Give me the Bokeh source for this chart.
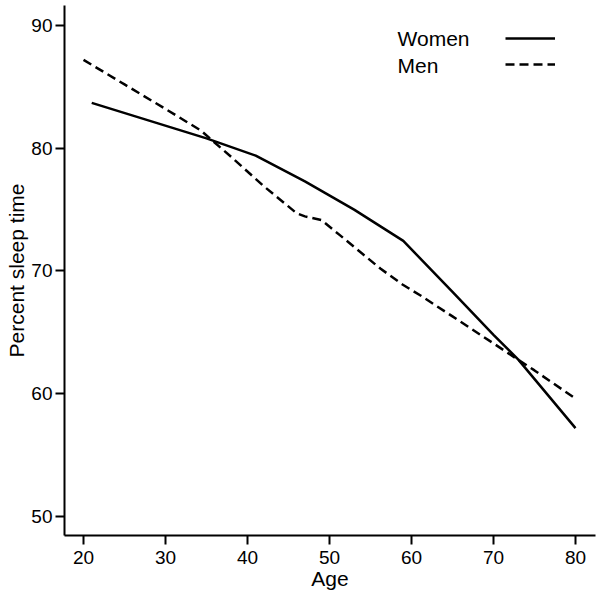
from bokeh.plotting import figure
from bokeh.models import Range1d, Label, Legend, LegendItem, FixedTicker
from bokeh.embed import file_html
from bokeh.resources import INLINE

# Data
women_age = [21, 35, 41, 47, 53, 59, 65, 70, 73, 80]
women_pct = [83.7, 80.8, 79.4, 77.3, 75.0, 72.45, 68.3, 64.8, 62.8, 57.2]

men_age = [20, 25, 30, 34.3, 38, 42, 46, 47, 49, 51.3, 56.2, 58.9, 61.1, 65, 70, 72.7, 75, 80]
men_pct = [87.2, 85.2, 83.2, 81.45, 79.3, 76.9, 74.7, 74.45, 74.15, 72.9, 70.2, 68.9, 68.0, 66.3, 64.1, 62.9, 61.9, 59.6]

x_ticks = [20, 30, 40, 50, 60, 70, 80]
y_ticks = [50, 60, 70, 80, 90]

FONT = "Liberation Sans"

p = figure(width=601, height=597, output_backend="svg", toolbar_location=None,
           x_range=Range1d(17.68, 82.44), y_range=Range1d(48.45, 91.63),
           min_border_left=64, min_border_right=6, min_border_top=5, min_border_bottom=62)
p.outline_line_color = None
p.xgrid.visible = False
p.ygrid.visible = False

for ax in (p.xaxis[0], p.yaxis[0]):
    ax.axis_line_width = 2
    ax.axis_line_color = "black"
    ax.major_tick_line_width = 2
    ax.major_tick_line_color = "black"
    ax.major_tick_in = 0
    ax.major_tick_out = 9
    ax.minor_tick_line_color = None
    ax.major_label_text_font = FONT
    ax.major_label_text_font_size = "19px"
    ax.major_label_text_color = "black"
    ax.axis_label_text_font = FONT
    ax.axis_label_text_font_size = "21px"
    ax.axis_label_text_font_style = "normal"
    ax.axis_label_text_color = "black"

p.xaxis.ticker = FixedTicker(ticks=x_ticks)
p.yaxis.ticker = FixedTicker(ticks=y_ticks)
p.xaxis.axis_label = "Age"
p.yaxis.axis_label = "Percent sleep time"
p.xaxis.major_label_standoff = 6
p.xaxis.axis_label_standoff = 0
p.yaxis.major_label_standoff = 3
p.yaxis.axis_label_standoff = 0

rw = p.line(women_age, women_pct, line_color="black", line_width=2.5)
rm = p.line(men_age, men_pct, line_color="black", line_width=2.5, line_dash="9 5")

legend = Legend(items=[LegendItem(label=" ", renderers=[rw]),
                       LegendItem(label=" ", renderers=[rm])],
                location=(441, 461), glyph_width=50, glyph_height=20, spacing=6,
                padding=0, margin=0, label_standoff=0, label_width=0,
                border_line_alpha=0, background_fill_alpha=0, label_text_font_size="1px")
p.add_layout(legend)

p.add_layout(Label(x=58.3, y=88.94, text="Women", text_font=FONT, text_font_size="21px",
                   text_baseline="middle", text_color="black"))
p.add_layout(Label(x=58.3, y=86.74, text="Men", text_font=FONT, text_font_size="21px",
                   text_baseline="middle", text_color="black"))

open("out.html", "w").write(file_html(p, INLINE))
